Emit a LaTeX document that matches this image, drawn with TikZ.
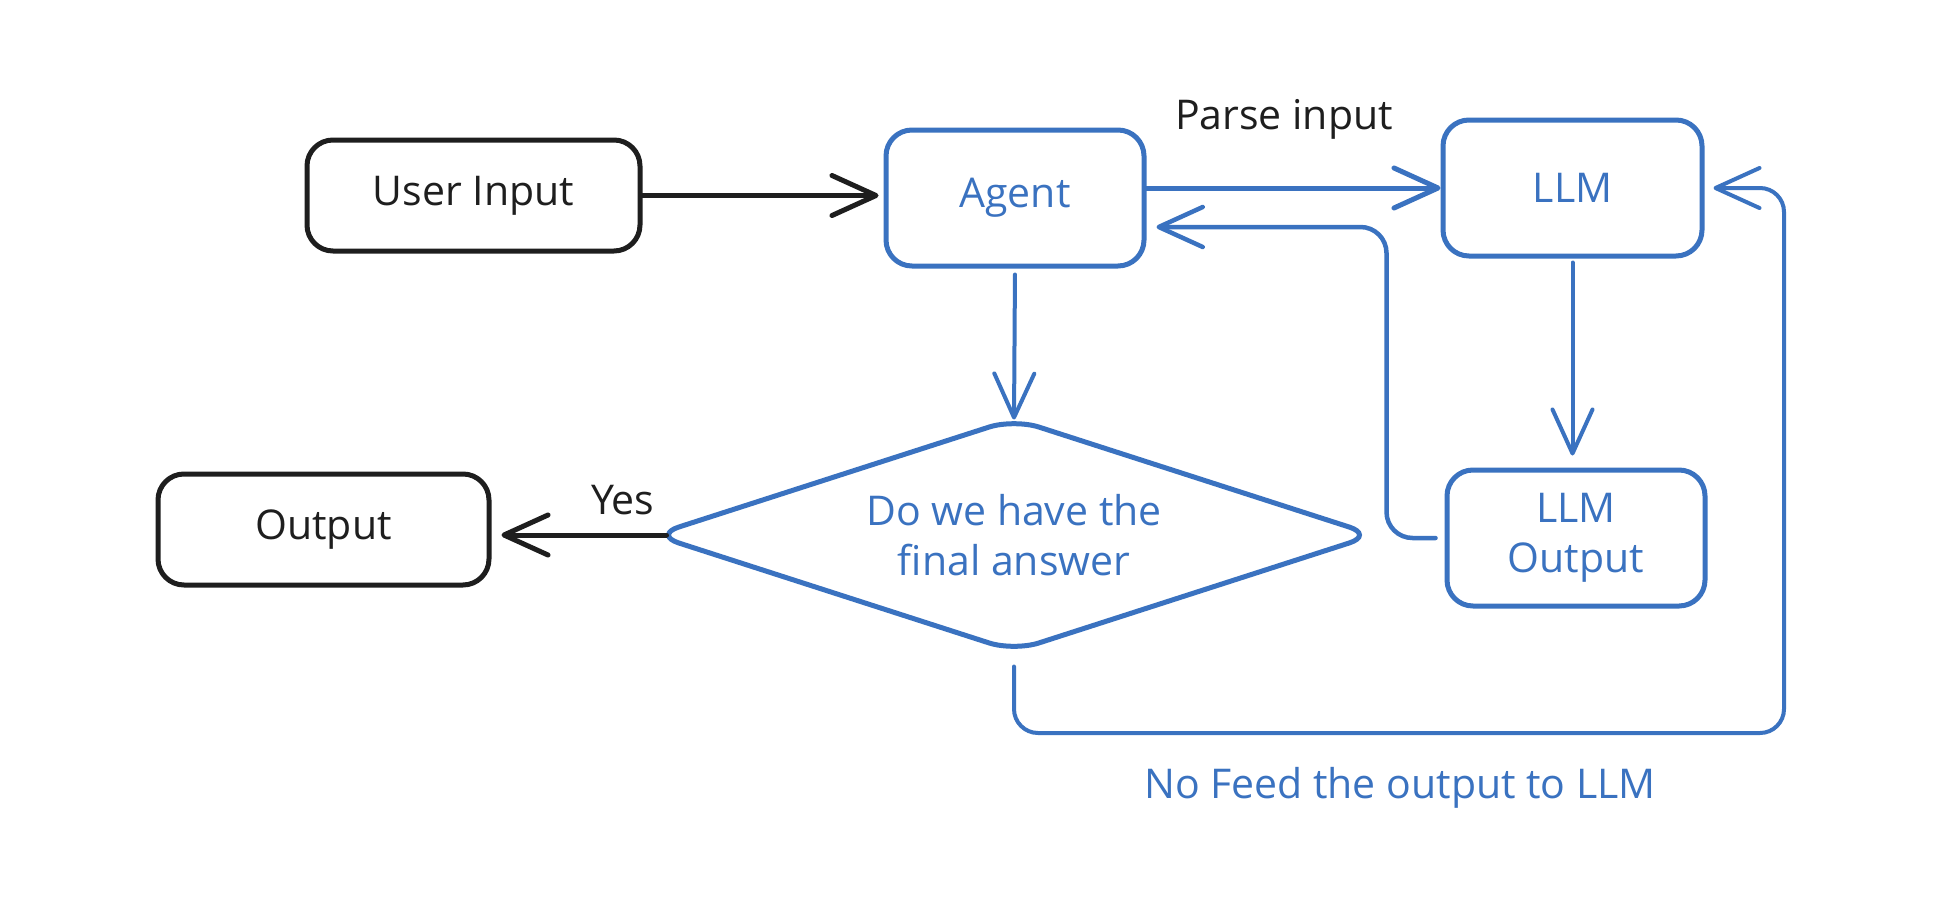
\documentclass[tikz,border=0pt]{standalone}
\usepackage{fontspec}
\setmainfont{Open Sans}
\usetikzlibrary{arrows.meta,shapes.geometric}
\definecolor{ink}{HTML}{1E1E1E}
\definecolor{blu}{HTML}{3A72C0}
\begin{document}
\begin{tikzpicture}[x=1pt,y=-1pt,
  txt/.style={font=\fontsize{41}{50}\selectfont},
  box/.style={draw, line width=5pt, rounded corners=26pt, inner sep=0pt, align=center, txt},
  kbox/.style={box, draw=ink, text=ink},
  bbox/.style={box, draw=blu, text=blu},
  karr/.style={draw=ink, line width=5pt, line cap=round, -{Straight Barb[length=44pt,width=40pt,round]}},
  barr/.style={draw=blu, line width=4.5pt, line cap=round, -{Straight Barb[length=44pt,width=40pt,round]}},
]
\useasboundingbox (0,0) rectangle (1940,908);
\fill[white] (0,0) rectangle (1940,908);

\node[kbox, minimum width=333pt, minimum height=111pt] (ui) at (473.5,195.5) {User Input};
\node[bbox, minimum width=258pt, minimum height=136pt] (agent) at (1015,198) {Agent};
\node[bbox, minimum width=259pt, minimum height=136pt] (llm) at (1572.5,188) {LLM};
\node[bbox, minimum width=258pt, minimum height=136pt] (llmout) at (1576,538) {LLM\\Output};
\node[kbox, minimum width=331pt, minimum height=111pt] (out) at (323.5,529.5) {Output};
\node[shape=diamond, aspect=3.06, draw=blu, text=blu, line width=5pt, rounded corners=26pt, inner sep=0pt,
      minimum width=722pt, minimum height=234pt, align=center, txt] (dia) at (1014,535)
      {Do we have the\\final answer};

\node[txt, text=ink] (parse) at (1284,119) {Parse input};
\node[txt, text=blu] (nofeed) at (1400,788) {No Feed the output to LLM};

\draw[karr, shorten >=5pt] (ui.east) -- (ui.east -| agent.west);
\draw[barr, line width=5pt] (agent.east |- llm.west) -- (llm.west);
\draw[barr, rounded corners=26pt, shorten <=9pt, shorten >=10pt]
  (llmout.west) -- ++(-58,0) |- ([yshift=-29pt]agent.east);
\draw[barr, line width=4pt, shorten <=4pt, shorten >=12pt] (llm.south) -- (llm.south |- llmout.north);
\draw[barr, line width=4pt, shorten <=6pt] (agent.south) -- ([yshift=-4pt]dia.north);
\draw[karr, shorten >=10pt] ([xshift=16pt]dia.west) -- (dia.west -| out.east)
  node[pos=0.25, yshift=35pt, txt, text=ink] (yes) {Yes};
\coordinate (fb) at (1784,733);
\draw[barr, line width=4pt, rounded corners=24pt, shorten >=9pt]
  ([yshift=-12pt]dia.south) |- (fb) |- (llm.east);
\end{tikzpicture}
\end{document}
